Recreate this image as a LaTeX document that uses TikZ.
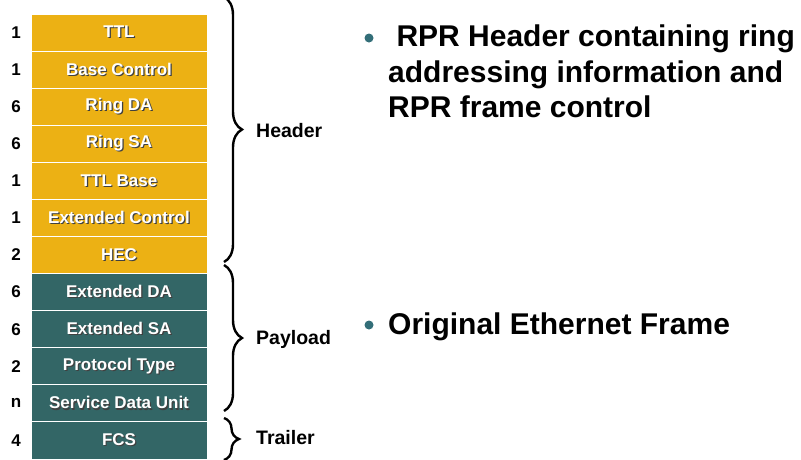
\documentclass[tikz,border=0pt]{standalone}
\usepackage{fontspec}
\setmainfont{Liberation Sans}
\usetikzlibrary{decorations.pathreplacing}
\definecolor{hdrgold}{RGB}{236,177,20}
\definecolor{pldteal}{RGB}{51,102,102}
\definecolor{dotteal}{RGB}{51,110,120}
\newcommand\shtext[1]{\rlap{\textcolor{black!75}{\hspace{1.2pt}\raisebox{-1.2pt}{#1}}}#1}
\tikzset{
  x=1pt, y=-1pt,
  field/.style = {draw=white, line width=0.8pt, minimum width=176pt, minimum height=37.08pt,
    inner sep=0pt, text=white, font=\fontsize{17}{20}\selectfont\bfseries},
  hdr_f/.style = {field, fill=hdrgold},
  pld_f/.style = {field, fill=pldteal},
  size_n/.style = {inner sep=0pt, font=\fontsize{17}{20}\selectfont\bfseries},
  grp_n/.style = {anchor=west, inner sep=0pt, font=\fontsize{19.5}{23}\selectfont\bfseries},
  grp_b/.style = {decorate, decoration={brace, amplitude=18pt}, line width=2.4pt},
  note_n/.style = {anchor=north west, inner sep=0pt, align=left, font=\fontsize{30}{35.5}\selectfont\bfseries},
  bullet/.style = {circle, fill=dotteal, inner sep=0pt, minimum size=9pt}
}
\begin{document}
\begin{tikzpicture}
\useasboundingbox (0,0) rectangle (801,459);
% frame fields
\foreach \i/\n/\lbl/\sty in {1/1/TTL/hdr_f, 2/1/Base Control/hdr_f, 3/6/Ring DA/hdr_f,
    4/6/Ring SA/hdr_f, 5/1/TTL Base/hdr_f, 6/1/Extended Control/hdr_f, 7/2/HEC/hdr_f,
    8/6/Extended DA/pld_f, 9/6/Extended SA/pld_f, 10/2/Protocol Type/pld_f,
    11/n/Service Data Unit/pld_f, 12/4/FCS/pld_f}
{
  \node [\sty] (f\i) at (119, 14+18.54+37.08*\i-37.08) {\shtext{\lbl}};
  \node [size_n] (s\i) at (16, 14+18.54+37.08*\i-37.08) {\n};
}
% braces
\coordinate (hdr_top) at (224,-3);
\coordinate (hdr_bot) at (224,262);
\coordinate (pld_top) at (224,265);
\coordinate (pld_bot) at (224,411);
\coordinate (trl_top) at (224,418);
\coordinate (trl_bot) at (224,460);
\draw [grp_b] (hdr_top) -- (hdr_bot);
\draw [grp_b] (pld_top) -- (pld_bot);
\draw [grp_b, decoration={amplitude=15pt}] (trl_top) -- (trl_bot);
\node [grp_n] (hdr) at (256,131) {Header};
\node [grp_n] (pld) at (256,339) {Payload};
\node [grp_n] (trl) at (256,438) {Trailer};
% notes
\node [bullet] (b1) at (369,38) {};
\node [note_n] (n1) at (388,25) {\ RPR Header containing ring\\addressing information and\\RPR frame control};
\node [bullet] (b2) at (369,325) {};
\node [note_n] (n2) at (388,313) {Original Ethernet Frame};
\end{tikzpicture}
\end{document}
